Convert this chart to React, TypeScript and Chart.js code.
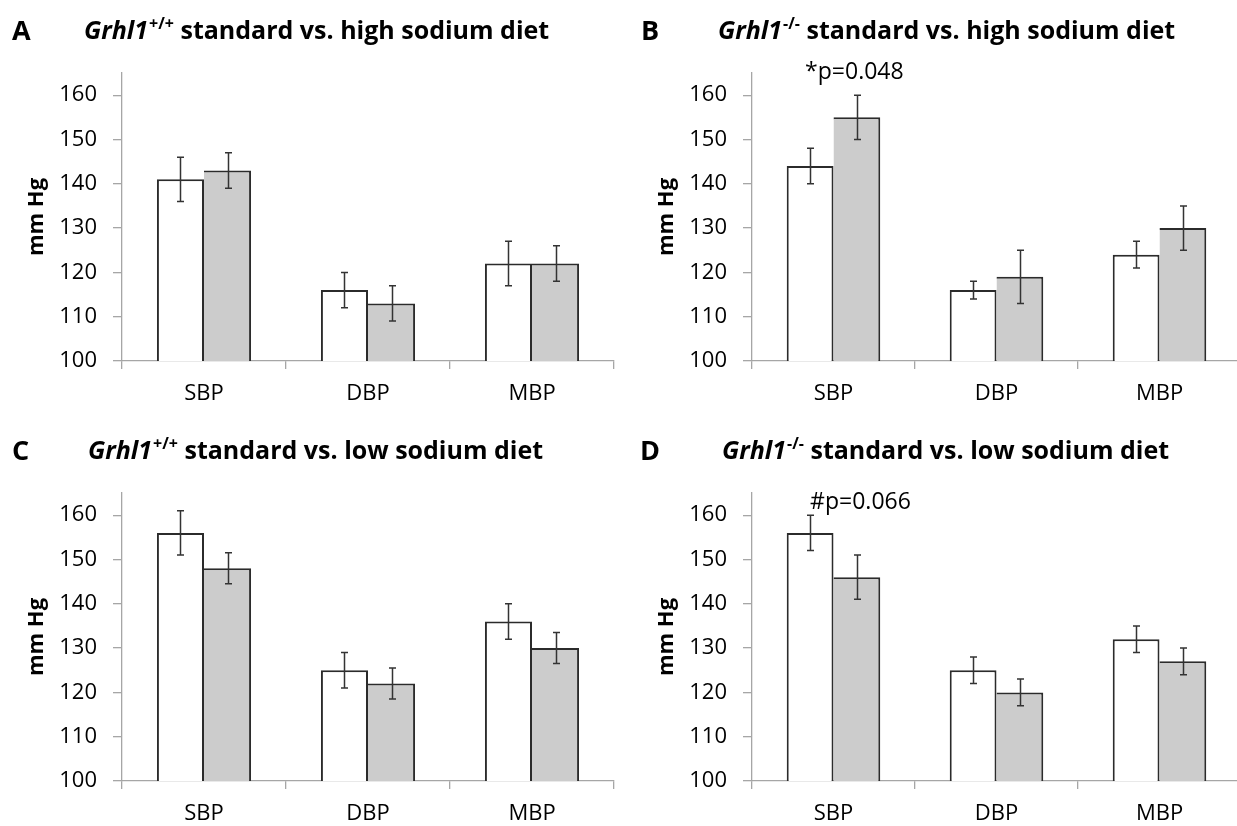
import React, { useEffect, useRef } from 'react';
import { Chart, registerables } from 'chart.js';

Chart.register(...registerables);

// ---------- data ----------
const categories = ['SBP', 'DBP', 'MBP'];
const yTickValues = [100, 110, 120, 130, 140, 150, 160];
const yMin = 100;
const yMax = 165;

const aStandard = [141, 116, 122];
const aStandardErr = [5, 4, 5];
const aHigh = [143, 113, 122];
const aHighErr = [4, 4, 4];

const bStandard = [144, 116, 124];
const bStandardErr = [4, 2, 3];
const bHigh = [155, 119, 130];
const bHighErr = [5, 6, 5];

const cStandard = [156, 125, 136];
const cStandardErr = [5, 4, 4];
const cLow = [148, 122, 130];
const cLowErr = [3.5, 3.5, 3.5];

const dStandard = [156, 125, 132];
const dStandardErr = [4, 3, 3];
const dLow = [146, 120, 127];
const dLowErr = [5, 3, 3];

const FONT = '"Open Sans", "DejaVu Sans", sans-serif';
const AXIS_COLOR = '#a6a6a6';
const BAR_BORDER = '#2b2b2b';
const ERR_COLOR = '#333333';

type PanelDef = {
  key: string;
  letter: string;
  sup: string;
  rest: string;
  std: number[];
  stdErr: number[];
  other: number[];
  otherErr: number[];
  note?: { text: string; value: number; dx: number };
  canvas: { left: number; top: number; w: number; h: number };
  area: { l: number; t: number; r: number; b: number };
  titleY: number;
  letterX: number;
  titleX: number;
};

const panels: PanelDef[] = [
  {
    key: 'A', letter: 'A', sup: '+/+', rest: ' standard vs. high sodium diet',
    std: aStandard, stdErr: aStandardErr, other: aHigh, otherErr: aHighErr,
    canvas: { left: 0, top: 0, w: 620, h: 413 },
    area: { l: 122, t: 73, r: 614, b: 361 },
    titleY: 32, letterX: 12, titleX: 84,
  },
  {
    key: 'B', letter: 'B', sup: '-/-', rest: ' standard vs. high sodium diet',
    std: bStandard, stdErr: bStandardErr, other: bHigh, otherErr: bHighErr,
    note: { text: '*p=0.048', value: 165.2, dx: -5 },
    canvas: { left: 620, top: 0, w: 622, h: 413 },
    area: { l: 752, t: 73, r: 1241, b: 361 },
    titleY: 32, letterX: 641, titleX: 718,
  },
  {
    key: 'C', letter: 'C', sup: '+/+', rest: ' standard vs. low sodium diet',
    std: cStandard, stdErr: cStandardErr, other: cLow, otherErr: cLowErr,
    canvas: { left: 0, top: 413, w: 620, h: 413 },
    area: { l: 122, t: 493, r: 614, b: 781 },
    titleY: 452, letterX: 12, titleX: 88,
  },
  {
    key: 'D', letter: 'D', sup: '-/-', rest: ' standard vs. low sodium diet',
    std: dStandard, stdErr: dStandardErr, other: dLow, otherErr: dLowErr,
    note: { text: '#p=0.066', value: 162.9, dx: 0 },
    canvas: { left: 620, top: 413, w: 622, h: 413 },
    area: { l: 752, t: 493, r: 1241, b: 781 },
    titleY: 452, letterX: 640, titleX: 722,
  },
];

function PanelChart({ p }: { p: PanelDef }) {
  const ref = useRef<HTMLCanvasElement | null>(null);

  useEffect(() => {
    if (!ref.current) return;
    const c = p.canvas;
    const a = p.area;

    const decor = {
      id: 'decor' + p.key,
      afterDatasetsDraw(chart: any) {
        const ctx = chart.ctx;
        const ys = chart.scales.y;
        const errs = [p.stdErr, p.otherErr];
        const vals = [p.std, p.other];
        ctx.save();
        ctx.strokeStyle = ERR_COLOR;
        ctx.lineWidth = 1.5;
        for (let d = 0; d < 2; d++) {
          const meta = chart.getDatasetMeta(d);
          meta.data.forEach((bar: any, i: number) => {
            const x = Math.round(bar.x) + 0.5;
            const yt = ys.getPixelForValue(vals[d][i] + errs[d][i]);
            const yb = ys.getPixelForValue(vals[d][i] - errs[d][i]);
            ctx.beginPath();
            ctx.moveTo(x, yt);
            ctx.lineTo(x, yb);
            ctx.moveTo(x - 3.5, yt);
            ctx.lineTo(x + 3.5, yt);
            ctx.moveTo(x - 3.5, yb);
            ctx.lineTo(x + 3.5, yb);
            ctx.stroke();
          });
        }
        ctx.restore();
      },
      afterDraw(chart: any) {
        const ctx = chart.ctx;
        const ys = chart.scales.y;
        ctx.save();
        ctx.fillStyle = '#000';
        // title
        const ty = p.titleY - c.top;
        ctx.textBaseline = 'middle';
        ctx.textAlign = 'left';
        ctx.font = `bold 27px ${FONT}`;
        ctx.fillText(p.letter, p.letterX - c.left, ty);
        let x = p.titleX - c.left;
        ctx.font = `italic bold 25px ${FONT}`;
        ctx.fillText('Grhl1', x, ty);
        x += ctx.measureText('Grhl1').width + 1;
        ctx.font = `bold 16px ${FONT}`;
        ctx.fillText(p.sup, x, ty - 8);
        x += ctx.measureText(p.sup).width;
        ctx.font = `bold 25px ${FONT}`;
        ctx.fillText(p.rest, x, ty);

        // y axis title
        const cy = (chart.chartArea.top + chart.chartArea.bottom) / 2;
        ctx.save();
        ctx.translate(a.l - 79 - c.left, cy);
        ctx.rotate(-Math.PI / 2);
        ctx.textAlign = 'center';
        ctx.textBaseline = 'alphabetic';
        ctx.font = `bold 22px ${FONT}`;
        ctx.fillText('mm Hg', 0, 0);
        ctx.restore();

        // annotation
        if (p.note) {
          const bar = chart.getDatasetMeta(0).data[0];
          ctx.font = `23px ${FONT}`;
          ctx.textAlign = 'left';
          ctx.textBaseline = 'middle';
          ctx.fillText(p.note.text, bar.x + p.note.dx, ys.getPixelForValue(p.note.value));
        }
        ctx.restore();
      },
    };

    const chart = new Chart(ref.current, {
      type: 'bar',
      data: {
        labels: categories,
        datasets: [
          {
            label: 'standard',
            data: p.std,
            backgroundColor: '#ffffff',
            borderColor: BAR_BORDER,
            borderWidth: { top: 2, left: 2, right: 2, bottom: 0 },
            borderSkipped: false,
            barPercentage: 1,
            categoryPercentage: 0.574,
          },
          {
            label: 'diet',
            data: p.other,
            backgroundColor: '#cccccc',
            borderColor: BAR_BORDER,
            borderWidth: { top: 2, left: 0, right: 2, bottom: 0 },
            borderSkipped: false,
            barPercentage: 1,
            categoryPercentage: 0.574,
          },
        ],
      },
      options: {
        responsive: false,
        animation: false,
        devicePixelRatio: 1,
        layout: {
          padding: { left: 0, top: a.t - c.top, right: c.w - (a.r - c.left), bottom: 0 },
        },
        plugins: {
          legend: { display: false },
          tooltip: { enabled: false },
          title: { display: false },
        },
        scales: {
          x: {
            offset: true,
            grid: {
              offset: true,
              drawOnChartArea: false,
              drawTicks: true,
              tickLength: 8,
              color: AXIS_COLOR,
              lineWidth: 1.3,
            },
            border: { color: AXIS_COLOR, width: 1.3 },
            ticks: {
              padding: 12,
              color: '#000',
              font: { family: FONT, size: 22 },
              maxRotation: 0,
              minRotation: 0,
            },
            afterFit: (s: any) => {
              s.height = c.top + c.h - a.b;
            },
          },
          y: {
            min: yMin,
            max: yMax,
            afterBuildTicks: (s: any) => {
              s.ticks = yTickValues.map((v) => ({ value: v }));
            },
            grid: {
              drawOnChartArea: false,
              drawTicks: true,
              tickLength: 9,
              color: AXIS_COLOR,
              lineWidth: 1.3,
            },
            border: { color: AXIS_COLOR, width: 1.3 },
            ticks: {
              padding: 16,
              color: '#000',
              font: { family: FONT, size: 22 },
            },
            afterFit: (s: any) => {
              s.width = a.l - c.left;
            },
          },
        },
      },
      plugins: [decor],
    } as any);

    return () => chart.destroy();
  }, [p]);

  return (
    <canvas
      ref={ref}
      width={p.canvas.w}
      height={p.canvas.h}
      style={{
        position: 'absolute',
        left: p.canvas.left,
        top: p.canvas.top,
        width: p.canvas.w,
        height: p.canvas.h,
      }}
    />
  );
}

export default function App() {
  useEffect(() => {
    document.body.style.margin = '0';
    document.body.style.overflow = 'hidden';
  }, []);
  return (
    <div
      style={{
        position: 'absolute',
        left: 0,
        top: 0,
        width: 1237,
        height: 826,
        overflow: 'hidden',
        background: '#fff',
      }}
    >
      {panels.map((p) => (
        <PanelChart key={p.key} p={p} />
      ))}
    </div>
  );
}
